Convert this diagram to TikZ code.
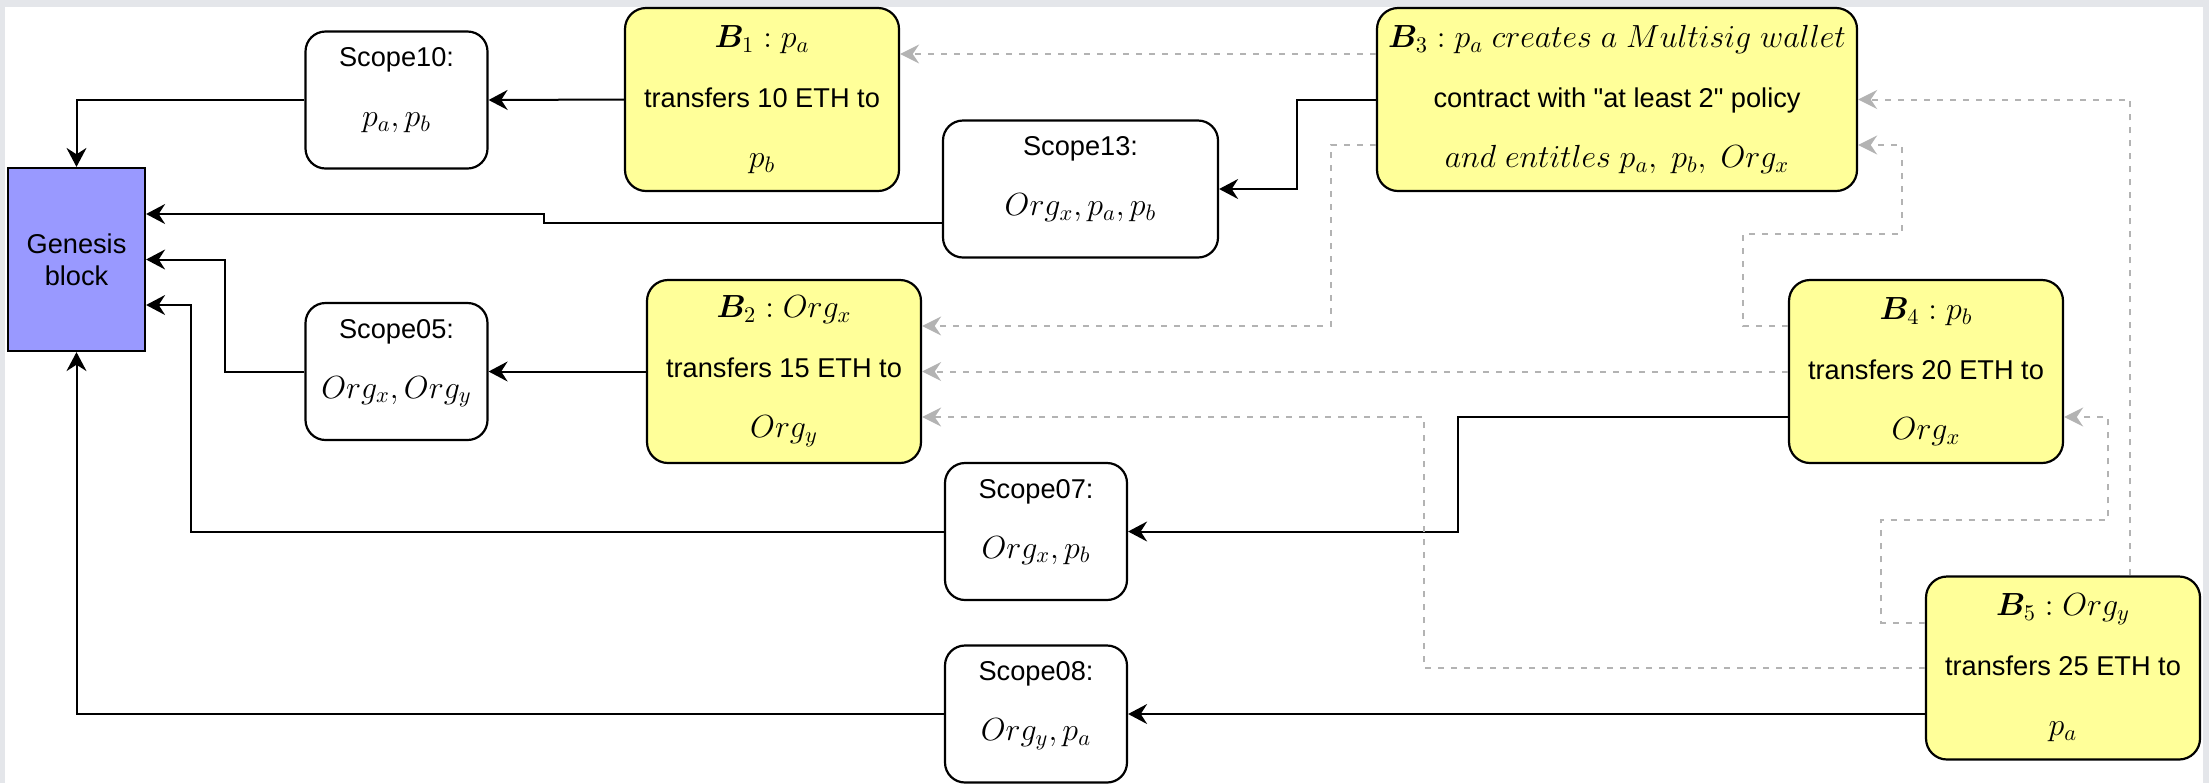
\RequirePackage{fix-cm}
\documentclass[tikz,border=0pt]{standalone}
\usepackage{amsmath,bm}
\usepackage[no-math]{fontspec}
\setmainfont{Liberation Sans}
\usetikzlibrary{arrows.meta}

\definecolor{blockyellow}{HTML}{FFFF99}
\definecolor{genesisblue}{HTML}{9999FF}
\definecolor{refgray}{HTML}{B3B3B3}
\definecolor{framegray}{HTML}{E4E6EA}

% math lines are set a little larger than the sans text
\newcommand{\mth}[1]{{\fontsize{16}{30}\selectfont$#1$}}

\begin{document}
\begin{tikzpicture}[x=0.5pt,y=-0.5pt,
  every node/.style={font=\fontsize{13.6}{30}\selectfont},
  blockbox/.style={draw=black,line width=1.1pt,fill=blockyellow,
    rounded corners=10.5pt,align=center,inner sep=2pt,
    minimum width=137pt,minimum height=91.5pt},
  scopebox/.style={draw=black,line width=1.1pt,fill=white,
    rounded corners=10pt,align=center,inner sep=2pt,text depth=13pt,
    minimum width=91pt,minimum height=68.5pt},
  genesisbox/.style={draw=black,line width=1.1pt,fill=genesisblue,
    align=center,font=\fontsize{13.6}{16}\selectfont,
    minimum width=68.5pt,minimum height=91.5pt},
  link/.style={black,line width=1pt,
    -{Stealth[length=9.5pt,width=10pt,inset=3.2pt]}},
  ref/.style={refgray,line width=1pt,dash pattern=on 3pt off 3.5pt,
    -{Stealth[length=9.5pt,width=9.5pt,inset=3.2pt]}}]
  \def\rowsep{22.75pt}

  \fill[framegray] (0,0) rectangle (2209,783);
  \fill[white] (5,7) rectangle (2203,783);
  \useasboundingbox (0,0) rectangle (2209,783);

  \node[genesisbox] (genesis) at (76.5,259.5) {Genesis\\block};

  \node[scopebox] (scope10) at (396.5,100) {Scope10:\\\mth{p_a, p_b}};
  \node[scopebox] (scope05) at (396.5,371.5) {Scope05:\\\mth{Org_x, Org_y}};
  \node[scopebox,minimum width=137.5pt] (scope13) at (1080.5,189)
    {Scope13:\\\mth{Org_x, p_a, p_b}};
  \node[scopebox] (scope07) at (1036,531.5) {Scope07:\\\mth{Org_x, p_b}};
  \node[scopebox] (scope08) at (1036,714) {Scope08:\\\mth{Org_y, p_a}};

  \node[blockbox] (b1) at (762,99.5)
    {\mth{\bm{B}_1 : p_a}\\transfers 10 ETH to\\\mth{p_b}};
  \node[blockbox] (b2) at (784,371.5)
    {\mth{\bm{B}_2 : Org_x}\\transfers 15 ETH to\\\mth{Org_y}};
  \node[blockbox,minimum width=240pt] (b3) at (1617,99.5)
    {\mth{\bm{B}_3 : p_a\ creates\ a\ Multisig\ wallet}\\
     contract with \textquotedbl at least 2\textquotedbl{} policy\\
     \mth{and\ entitles\ p_a,\ p_b,\ Org_x}};
  \node[blockbox] (b4) at (1926,371.5)
    {\mth{\bm{B}_4 : p_b}\\transfers 20 ETH to\\\mth{Org_x}};
  \node[blockbox] (b5) at (2063,668)
    {\mth{\bm{B}_5 : Org_y}\\transfers 25 ETH to\\\mth{p_a}};

  % scopes feed back into the genesis block
  \draw[link] (scope10.west) -| (genesis.north);
  \draw[link] ([yshift=-17pt]scope13.west) -| (544,214)
    -- (genesis.east |- 544,214);
  \draw[link] (scope05.west) -| (genesis.east -| 225,0) -- (genesis.east);
  \draw[link] (scope07.west) -| (191,305) -- (genesis.east |- 191,305);
  \draw[link] (scope08.west) -| (genesis.south);

  % each transaction block creates its scope
  \draw[link] (b1.west) -- (scope10.east);
  \draw[link] (b2.west) -- (scope05.east);
  \draw[link] (b3.west) -- ++(-79,0) |- (scope13.east);
  \draw[link] ([yshift=-\rowsep]b4.west) -- ++(-330,0) |- (scope07.east);
  \draw[link] (b5.west |- scope08.east) -- (scope08.east);

  % references between blocks
  \draw[ref] ([yshift=\rowsep]b3.west) -- ([yshift=\rowsep]b1.east);
  \draw[ref] ([yshift=-\rowsep]b3.west) -- ++(-45,0) |- ([yshift=\rowsep]b2.east);
  \draw[ref] (b4.west) -- (b2.east);
  \draw[ref] ([yshift=\rowsep]b4.west) -| (1743,234) -| (1902,145)
    -- ([yshift=-\rowsep]b3.east);
  \draw[ref] ([xshift=33.5pt]b5.north) |- (b3.east);
  \draw[ref] (b5.west) -- ++(-501,0) |- ([yshift=-\rowsep]b2.east);
  \draw[ref] ([yshift=\rowsep]b5.west) -| (1881,520) -| (2108,417)
    -- ([yshift=-\rowsep]b4.east);
\end{tikzpicture}
\end{document}
